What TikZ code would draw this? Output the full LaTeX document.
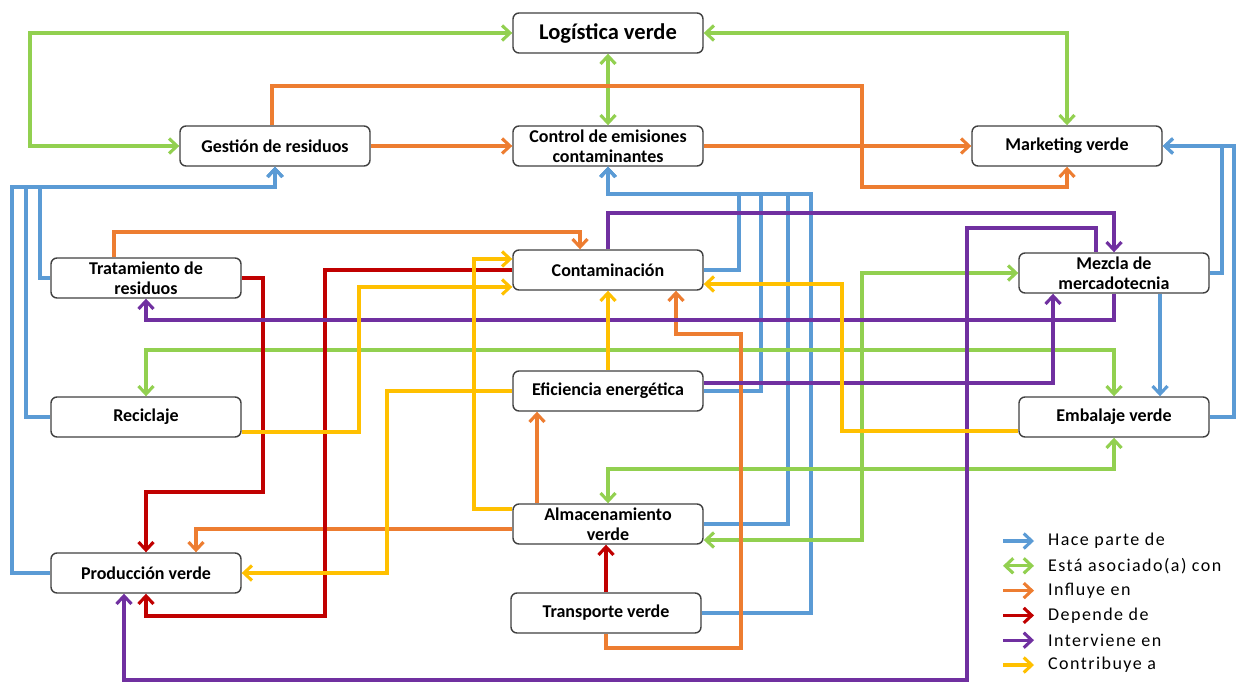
\documentclass[tikz,border=0pt]{standalone}
\usepackage{fontspec}
\setmainfont{Carlito}
\newfontfamily\leyfont[LetterSpace=8]{Carlito}
\usetikzlibrary{arrows.meta}
\definecolor{cParte}{RGB}{91,155,213}
\definecolor{cAsoc}{RGB}{146,208,80}
\definecolor{cInfl}{RGB}{237,125,49}
\definecolor{cDep}{RGB}{192,0,0}
\definecolor{cInterv}{RGB}{112,48,160}
\definecolor{cContr}{RGB}{255,192,0}
\tikzset{
	caja/.style={
		draw=black!75, rounded corners=6pt, line width=1.4pt, fill=white,
		minimum width=190pt, minimum height=40pt, inner sep=1pt,
		align=center, font={\fontsize{18}{20}\selectfont\bfseries}
	},
	titulo/.style={caja, font={\fontsize{22.5}{25}\selectfont\bfseries}},
	punta/.tip={Straight Barb[length=8pt,width=15pt]},
	flecha/.style={line width=3.1pt, -punta},
	parte/.style={flecha, draw=cParte},
	asoc/.style={flecha, draw=cAsoc, punta-punta},
	infl/.style={flecha, draw=cInfl},
	dep/.style={flecha, draw=cDep},
	interv/.style={flecha, draw=cInterv},
	contr/.style={flecha, draw=cContr},
	leyenda/.style={anchor=west, inner sep=0pt, font={\leyfont\fontsize{18}{20}\selectfont}},
}
\def\filaL{24.8}

\begin{document}
\begin{tikzpicture}[x=1pt, y=-1pt]
\useasboundingbox (0,0) rectangle (1236,682);

\node[titulo] (logis) at (608,33)  {Log\'istica verde};
\node[caja]   (gest)  at (275,146) {Gesti\'on de residuos};
\node[caja]   (ctrl)  at (608,146) {Control de emisiones\\contaminantes};
\node[caja]   (mkt)   at (1067,146) {Marketing verde};
\node[caja]   (trat)  at (146,278) {Tratamiento de\\residuos};
\node[caja]   (cont)  at (608,270) {Contaminaci\'on};
\node[caja]   (mezc)  at (1114,273) {Mezcla de\\mercadotecnia};
\node[caja]   (efic)  at (608,391) {Eficiencia energ\'etica};
\node[caja]   (reci)  at (146,417) {Reciclaje};
\node[caja]   (emba)  at (1114,417) {Embalaje verde};
\node[caja]   (alma)  at (608,524) {Almacenamiento\\verde};
\node[caja]   (prod)  at (146,573) {Producci\'on verde};
\node[caja]   (trans) at (606,613) {Transporte verde};

% hace parte de
\draw[parte] (trat.west) -| (40,187) -| (gest.south);
\draw[parte] (reci.west) -| (26,187) -| (gest.south);
\draw[parte] (prod.west) -| (12,187) -| (gest.south);
\draw[parte] (cont.east) -| (739,194) -| (ctrl.south);
\draw[parte] (efic.east) -| (761,194) -| (ctrl.south);
\draw[parte] (alma.east) -| (788,194) -| (ctrl.south);
\draw[parte] (trans.east) -| (811,194) -| (ctrl.south);
\draw[parte] (mezc.east) -| (1222,146) -- (mkt.east);
\draw[parte] (emba.east) -| (1234,146) -- (mkt.east);
\draw[parte] ([xshift=46pt]mezc.south) -- ([xshift=46pt]emba.north);

% esta asociado con
\draw[asoc] (logis.west) -| (30,146) -- (gest.west);
\draw[asoc] (logis.east) -| (mkt.north);
\draw[asoc] (logis.south) -- (ctrl.north);
\draw[asoc] (reci.north) |- (1114,350) -- (emba.north);
\draw[asoc] (alma.north) |- (1114,469) -- (emba.south);
\draw[asoc] ([yshift=-16pt]alma.east) -| (862,273) -- (mezc.west);

% influye en
\draw[infl] (gest.east) -- (ctrl.west);
\draw[infl] (ctrl.east) -- (mkt.west);
\draw[infl] ([xshift=-3pt]gest.north) |- (862,86) -- (862,187) -| (mkt.south);
\draw[infl] ([xshift=-32pt]trat.north) |- (580,232) -- ([xshift=-28pt]cont.north);
\draw[infl] (trans.south) |- (741,648) |- (676,334) -- ([xshift=68pt]cont.south);
\draw[infl] ([xshift=-71pt]alma.north) -- ([xshift=-71pt]efic.south);
\draw[infl] ([yshift=-5pt]alma.west) -| ([xshift=50pt]prod.north);

% depende de
\draw[dep] (trat.east) -| (263,492) -| (prod.north);
\draw[dep] (cont.west) -| (325,616) -| (prod.south);
\draw[dep] (trans.north) -- (trans.north |- alma.south);

% interviene en
\draw[interv] (cont.north) |- (1114,213) -- (mezc.north);
\draw[interv] (mezc.south) |- (146,320) -- (trat.south);
\draw[interv] ([yshift=8pt]efic.east) -| ([xshift=-61pt]mezc.south);
\draw[interv] ([xshift=-18pt]mezc.north) |- (967,228) -- (967,680) -| ([xshift=-22pt]prod.south);

% contribuye a
\draw[contr] ([yshift=15pt]alma.west) -| (474,259) -- ([yshift=11pt]cont.west);
\draw[contr] ([yshift=-15pt]reci.east) -| (359,287) -- ([yshift=-17pt]cont.west);
\draw[contr] (efic.north) -- (cont.south);
\draw[contr] (efic.west) -| (387,573) -- (prod.east);
\draw[contr] ([yshift=-14pt]emba.west) -| (842,284) -- ([yshift=-14pt]cont.east);

\foreach \i/\est/\txt in {0/parte/Hace parte de, 1/asoc/Est\'a asociado(a) con,
  2/infl/Influye en, 3/dep/Depende de, 4/interv/Interviene en, 5/contr/Contribuye a}{
  \coordinate (ley\i) at (1003,541+\filaL*\i);
  \node[leyenda] (txt\i) at (1048,541+\filaL*\i) {\txt};
  \draw[\est] (ley\i) -- ([xshift=-14pt]txt\i.west);
}
\end{tikzpicture}
\end{document}
